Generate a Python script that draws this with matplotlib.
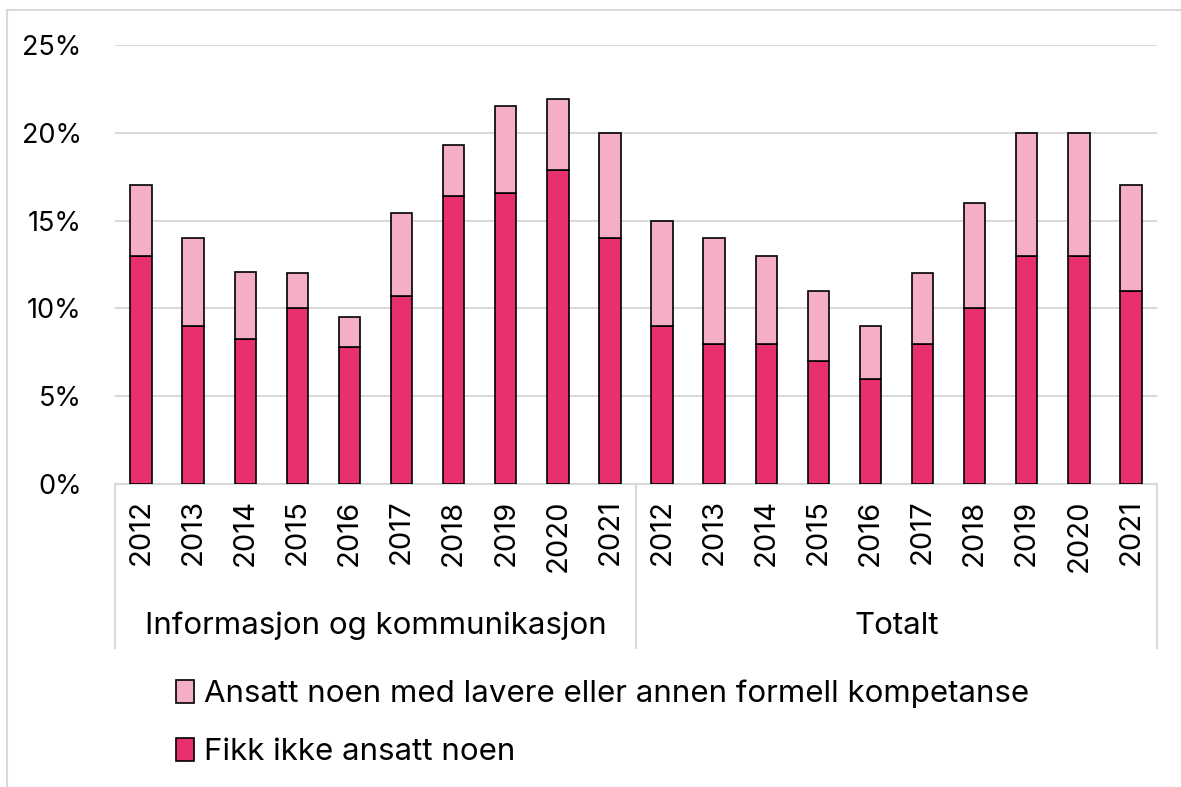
import matplotlib
matplotlib.use("Agg")
import matplotlib.pyplot as plt
from matplotlib.patches import Rectangle, Patch
from matplotlib.lines import Line2D
import numpy as np

plt.rcParams['font.family'] = ['Inter', 'DejaVu Sans']

years = ["2012", "2013", "2014", "2015", "2016", "2017", "2018", "2019", "2020", "2021"]
groups = ["Informasjon og kommunikasjon", "Totalt"]

# Fikk ikke ansatt noen (bottom), percent
ikt_bottom = [13, 9, 8.25, 10, 7.8, 10.7, 16.4, 16.6, 17.9, 14]
tot_bottom = [9, 8, 8, 7, 6, 8, 10, 13, 13, 11]
# Totals (top of stacked bar), percent
ikt_total = [17, 14, 12.1, 12, 9.5, 15.45, 19.3, 21.5, 21.9, 20]
tot_total = [15, 14, 13, 11, 9, 12, 16, 20, 20, 17]

label_top = "Ansatt noen med lavere eller annen formell kompetanse"
label_bottom = "Fikk ikke ansatt noen"

c_dark = "#E8306F"
c_light = "#F5AEC8"
grid_c = "#D9D9D9"

W, H = 1181, 787
fig = plt.figure(figsize=(W / 100, H / 100), dpi=100)
ax = fig.add_axes([115 / W, 1 - 484 / H, (1157 - 115) / W, (484 - 45) / H])

bottom = np.array(ikt_bottom + tot_bottom)
total = np.array(ikt_total + tot_total)
top = total - bottom
x = np.arange(len(bottom))

ax.bar(x, bottom, width=0.41, color=c_dark, edgecolor="black", linewidth=1.2, zorder=3)
ax.bar(x, top, bottom=bottom, width=0.41, color=c_light, edgecolor="black", linewidth=1.2, zorder=3)

ax.set_xlim(-0.5, len(x) - 0.5)
ax.set_ylim(0, 25)
ax.set_yticks([0, 5, 10, 15, 20, 25])
ax.set_yticklabels([f"{v}%" for v in [0, 5, 10, 15, 20, 25]], fontsize=19.5)
ax.yaxis.grid(True, color=grid_c, linewidth=1.5, zorder=0)
ax.tick_params(axis='y', length=0, pad=24)
ax.set_xticks(x)
ax.set_xticklabels(years + years, rotation=90, fontsize=21, va='top')
ax.tick_params(axis='x', length=0, pad=11)
for s in ['top', 'right', 'left']:
    ax.spines[s].set_visible(False)
ax.spines['bottom'].set_color(grid_c)
ax.spines['bottom'].set_linewidth(1.5)

# group separators
trans = ax.get_xaxis_transform()
y_low = -(648 - 484) / (484 - 45) * 1.0
for xs in [-0.5, 9.5, 19.5]:
    ax.add_line(Line2D([xs, xs], [0, y_low], transform=trans, color=grid_c,
                       linewidth=1.5, clip_on=False))
for i, g in enumerate(groups):
    ax.text(4.5 + 10 * i, -(626 - 484) / (484 - 45), g, transform=trans,
            ha='center', va='center', fontsize=22.5)

# outer border
fig.patches.append(Rectangle((7 / W, -0.01), 1.2, 1 - 10 / H + 0.01, transform=fig.transFigure,
                             fill=False, edgecolor=grid_c, linewidth=1.5))

handles = [Patch(facecolor=c_light, edgecolor='black', linewidth=1.2),
           Patch(facecolor=c_dark, edgecolor='black', linewidth=1.2)]
fig.legend(handles, [label_top, label_bottom], loc='upper left',
           bbox_to_anchor=(163 / W, 1 - 667 / H), frameon=False, fontsize=22.5,
           handlelength=0.6, handleheight=0.75, handletextpad=0.3, labelspacing=0.95,
           borderaxespad=0)

fig.savefig("out.png", dpi=100)
